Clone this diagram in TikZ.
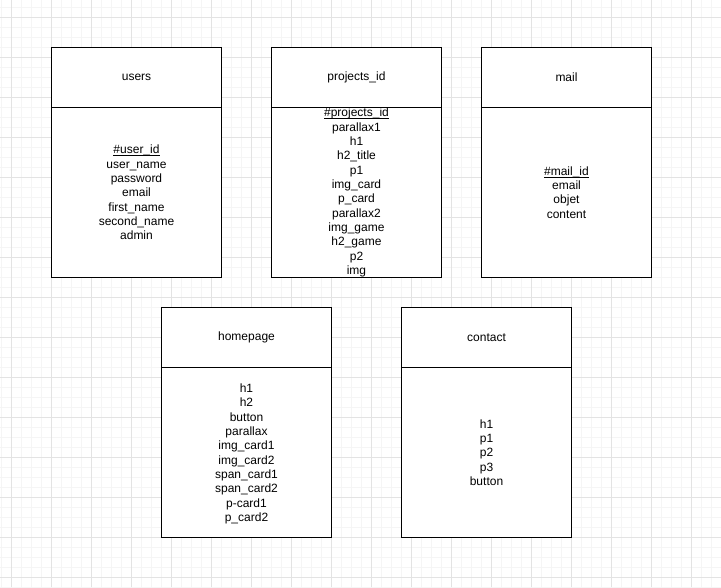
\documentclass[tikz,border=0pt]{standalone}
\usepackage{fontspec}
\setmainfont{Liberation Sans}
% key field: underlined just below the baseline, under the underscore
\newcommand\keyname[1]{\setbox0=\hbox{#1}\rlap{\vrule width \wd0 height -1.4pt depth 2.2pt}\box0}
\begin{document}
\begin{tikzpicture}[x=1pt,y=-1pt,
  tabletitle/.style={draw=black, line width=1pt, fill=white, minimum width=170pt,
    minimum height=60pt, anchor=north west, inner sep=0pt,
    font=\fontsize{12}{14.4}\selectfont},
  tablebody/.style={draw=black, line width=1pt, fill=white, minimum width=170pt,
    minimum height=170pt, anchor=north west, inner sep=0pt},
  fieldlist/.style={align=center, inner sep=0pt, font=\fontsize{12}{14.35}\selectfont}]

% canvas and background grid
\useasboundingbox (0,0) rectangle (721,587);
\fill[white] (0,0) rectangle (721,587);
\foreach \x in {1,11,...,721} \draw[black!4, line width=1pt] (\x,0) -- (\x,587);
\foreach \y in {7,17,...,587} \draw[black!4, line width=1pt] (0,\y) -- (721,\y);
\foreach \x in {11,51,...,721} \draw[black!11, line width=1pt] (\x,0) -- (\x,587);
\foreach \y in {17,57,...,587} \draw[black!11, line width=1pt] (0,\y) -- (721,\y);

% users
\node[tabletitle] (usersT) at (51,47) {users};
\node[tablebody] (usersB) at (51,107) {};
\node[fieldlist] (usersF) at (usersB.center)
  {\keyname{\#user\_id}\\ user\_name\\ password\\ email\\ first\_name\\ second\_name\\ admin};

% projects_id
\node[tabletitle] (projT) at (271,47) {projects\_id};
\node[tablebody] (projB) at (271,107) {};
\node[fieldlist] (projF) at (projB.center)
  {\keyname{\#projects\_id}\\ parallax1\\ h1\\ h2\_title\\ p1\\ img\_card\\ p\_card\\ parallax2\\ img\_game\\ h2\_game\\ p2\\ img};

% mail
\node[tabletitle] (mailT) at (481,47) {mail};
\node[tablebody] (mailB) at (481,107) {};
\node[fieldlist] (mailF) at (mailB.center)
  {\keyname{\#mail\_id}\\ email\\ objet\\ content};

% homepage
\node[tabletitle] (homeT) at (161,307) {homepage};
\node[tablebody] (homeB) at (161,367) {};
\node[fieldlist] (homeF) at ([yshift=-1.5pt]homeB.center)
  {h1\\ h2\\ button\\ parallax\\ img\_card1\\ img\_card2\\ span\_card1\\ span\_card2\\ p-card1\\ p\_card2};

% contact
\node[tabletitle] (contT) at (401,307) {contact};
\node[tablebody] (contB) at (401,367) {};
\node[fieldlist] (contF) at (contB.center)
  {h1\\ p1\\ p2\\ p3\\ button};

\end{tikzpicture}
\end{document}
